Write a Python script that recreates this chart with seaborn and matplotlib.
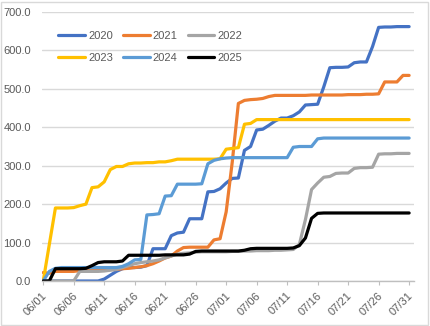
import numpy as np
import pandas as pd
import matplotlib
matplotlib.use("Agg")
import matplotlib.pyplot as plt
import matplotlib.transforms as mtransforms
from matplotlib.patches import Rectangle
import seaborn as sns

# ---- data (daily values 06/01 .. 07/31) ----
tick_labels = ["06/01", "06/06", "06/11", "06/16", "06/21", "06/26", "07/01",
               "07/06", "07/11", "07/16", "07/21", "07/26", "07/31"]
years = ["2020", "2021", "2022", "2023", "2024", "2025"]

y2020 = [0, 0, 0, 0, 0, 0, 0, 0, 0, 0,
         5, 15, 25, 32, 35, 35, 36, 40, 84, 84,
         84, 118, 125, 127, 162, 162, 162, 232, 233, 240,
         255, 267, 268, 340, 350, 393, 395, 405, 416, 424,
         424, 430, 440, 458, 459, 460, 505, 555, 556, 556,
         557, 568, 570, 570, 610, 660, 661, 661, 662, 662, 662]
y2021 = [22, 20, 25, 25, 25, 25, 27, 27, 27, 27,
         28, 30, 30, 32, 33, 35, 37, 40, 45, 52,
         60, 65, 78, 87, 88, 88, 88, 88, 107, 110,
         180, 310, 462, 470, 472, 473, 475, 480, 483, 483,
         483, 483, 483, 483, 484, 484, 484, 484, 484, 484,
         485, 485, 485, 486, 486, 487, 518, 518, 518, 535, 535]
y2022 = [0, 0, 0, 0, 0, 0, 25, 25, 25, 25,
         26, 28, 30, 35, 40, 45, 48, 50, 52, 55,
         60, 65, 70, 72, 73, 75, 76, 76, 76, 76,
         76, 77, 77, 78, 78, 79, 79, 79, 80, 80,
         81, 82, 95, 160, 238, 255, 270, 272, 280, 281,
         281, 293, 295, 295, 296, 330, 331, 331, 332, 332, 332]
y2023 = [0, 95, 190, 190, 190, 191, 196, 200, 243, 245,
         258, 290, 298, 298, 305, 307, 307, 308, 308, 310,
         310, 313, 317, 317, 317, 317, 317, 317, 317, 318,
         343, 345, 347, 408, 410, 420, 420, 420, 420, 420,
         420, 420, 420, 420, 420, 420, 420, 420, 420, 420,
         420, 420, 420, 420, 420, 420, 420, 420, 420, 420, 420]
y2024 = [0, 25, 33, 35, 35, 35, 35, 35, 35, 35,
         35, 35, 35, 38, 45, 55, 56, 172, 173, 175,
         221, 222, 252, 252, 252, 252, 253, 305, 314, 318,
         320, 321, 321, 321, 321, 321, 321, 321, 321, 321,
         321, 348, 350, 350, 350, 370, 372, 372, 372, 372,
         372, 372, 372, 372, 372, 372, 372, 372, 372, 372, 372]
y2025 = [0, 0, 32, 32, 32, 32, 32, 33, 40, 48,
         50, 50, 50, 52, 67, 67, 67, 67, 67, 67,
         68, 68, 68, 68, 70, 77, 78, 78, 78, 78,
         78, 78, 78, 80, 84, 85, 85, 85, 85, 85,
         85, 86, 92, 112, 163, 176, 177, 177, 177, 177,
         177, 177, 177, 177, 177, 177, 177, 177, 177, 177, 177]

series = [y2020, y2021, y2022, y2023, y2024, y2025]
colors = ["#4472C4", "#ED7D31", "#A5A5A5", "#FFC000", "#5B9BD5", "#000000"]

rows = []
for yr, vals in zip(years, series):
    for d, v in enumerate(vals):
        rows.append({"day": d, "value": v, "year": yr})
df = pd.DataFrame(rows)

sns.set_theme(style="white")
plt.rcParams["font.family"] = ["Liberation Sans", "DejaVu Sans"]

W, H = 430, 326
fig = plt.figure(figsize=(W / 100, H / 100), dpi=100, facecolor="white")
ax = fig.add_axes([42 / W, 1 - 281 / H, (414 - 42) / W, (281 - 12) / H])

sns.lineplot(data=df, x="day", y="value", hue="year", hue_order=years,
             palette=dict(zip(years, colors)), linewidth=2.3, ax=ax,
             estimator=None, legend=True)

ax.set_xlim(-0.2, 60.8)
ax.set_ylim(0, 700)
ax.set_yticks(np.arange(0, 701, 100))
ax.set_yticklabels([f"{v:.1f}" for v in np.arange(0, 701, 100)])
ax.set_xticks(np.arange(0, 61, 5))
ax.set_xticklabels(tick_labels, rotation=45, ha="right")
ax.set_xlabel("")
ax.set_ylabel("")

ax.grid(axis="y", color="#D9D9D9", linewidth=1)
ax.set_axisbelow(True)
for s in ["top", "right", "left"]:
    ax.spines[s].set_visible(False)
ax.spines["bottom"].set_color("#BFBFBF")
ax.spines["bottom"].set_linewidth(1)

ax.tick_params(axis="y", length=0, pad=8, labelsize=8, labelcolor="#595959")
ax.tick_params(axis="x", length=3, width=0.8, color="#BFBFBF", pad=4,
               labelsize=8, labelcolor="#595959", bottom=True)

offset = mtransforms.ScaledTranslation(6 / 100, 0, fig.dpi_scale_trans)
for lbl in ax.get_xticklabels():
    lbl.set_transform(lbl.get_transform() + offset)

handles, labels = ax.get_legend_handles_labels()
hmap = dict(zip(labels, handles))
order = ["2020", "2023", "2021", "2024", "2022", "2025"]  # row-major in 3 cols
ax.legend([hmap[k] for k in order], order, ncol=3, loc="upper left",
          bbox_to_anchor=(0.043, 0.93), frameon=False, fontsize=8,
          handlelength=2.4, handletextpad=0.3, columnspacing=0.9,
          labelspacing=1.1, borderpad=0, borderaxespad=0,
          labelcolor="#595959")
for line in ax.get_legend().get_lines():
    line.set_linewidth(2.3)

fig.patches.append(Rectangle((0.5 / W, 1.5 / H), 427.5 / W, 323 / H,
                             transform=fig.transFigure, fill=False,
                             edgecolor="#D9D9D9", linewidth=1))

fig.savefig("out.png", dpi=100, facecolor="white")
